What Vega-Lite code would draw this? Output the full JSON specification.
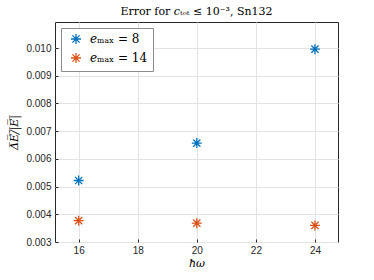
{
  "$schema": "https://vega.github.io/schema/vega-lite/v6.json",
  "autosize": "none",
  "width": 283,
  "height": 220,
  "padding": {"left": 55, "top": 22, "right": 36, "bottom": 38},
  "background": "white",
  "config": {
    "view": {"stroke": "#262626", "strokeWidth": 1},
    "axis": {
      "labelFont": "Liberation Sans",
      "labelFontSize": 10,
      "labelColor": "#262626",
      "gridColor": "#e3e3e3",
      "gridWidth": 1,
      "domain": false,
      "tickColor": "#262626",
      "tickSize": -3,
      "titleFont": "DejaVu Serif",
      "titleFontWeight": "normal",
      "titleFontStyle": "italic",
      "titleFontSize": 11,
      "titleColor": "#000000"
    }
  },
  "title": {
    "text": "Error for 𝑐ₜₒₜ ≤ 10⁻³, Sn132",
    "font": "DejaVu Serif",
    "fontSize": 11,
    "fontWeight": "normal",
    "color": "#000000",
    "anchor": "middle",
    "offset": 5
  },
  "data": {
    "values": [
      {"hw": 16, "err": 0.00522, "series": "𝑒ₘₐₓ = 8"},
      {"hw": 20, "err": 0.00657, "series": "𝑒ₘₐₓ = 8"},
      {"hw": 24, "err": 0.00996, "series": "𝑒ₘₐₓ = 8"},
      {"hw": 16, "err": 0.00377, "series": "𝑒ₘₐₓ = 14"},
      {"hw": 20, "err": 0.00368, "series": "𝑒ₘₐₓ = 14"},
      {"hw": 24, "err": 0.00360, "series": "𝑒ₘₐₓ = 14"}
    ]
  },
  "mark": {
    "type": "point",
    "shape": "M0,-1L0,1M-1,0L1,0M-0.72,-0.72L0.72,0.72M-0.72,0.72L0.72,-0.72",
    "filled": false,
    "size": 100,
    "strokeWidth": 1.3,
    "opacity": 1
  },
  "encoding": {
    "x": {
      "field": "hw",
      "type": "quantitative",
      "scale": {"domain": [15.2, 24.78], "nice": false, "zero": false},
      "axis": {"values": [16, 18, 20, 22, 24], "title": "ħω", "labelPadding": 6, "titlePadding": 2}
    },
    "y": {
      "field": "err",
      "type": "quantitative",
      "scale": {"domain": [0.003, 0.01094], "nice": false, "zero": false},
      "axis": {"values": [0.003, 0.004, 0.005, 0.006, 0.007, 0.008, 0.009, 0.01], "format": ".3f", "title": "Δ̅E̅/̅|̅E̅|̅", "labelPadding": 7, "titlePadding": 6}
    },
    "color": {
      "field": "series",
      "type": "nominal",
      "scale": {"domain": ["𝑒ₘₐₓ = 8", "𝑒ₘₐₓ = 14"], "range": ["#0072BD", "#D95319"]},
      "legend": {
        "title": null,
        "orient": "top-left",
        "offset": 6,
        "padding": 5,
        "strokeColor": "#8c8c8c",
        "fillColor": "white",
        "symbolType": "M0,-1L0,1M-1,0L1,0M-0.72,-0.72L0.72,0.72M-0.72,0.72L0.72,-0.72",
        "symbolSize": 100,
        "symbolStrokeWidth": 1.3,
        "symbolFillColor": "transparent",
        "labelFont": "DejaVu Serif",
        "labelFontSize": 12,
        "labelColor": "#000000",
        "rowPadding": 3,
        "symbolOffset": 4,
        "labelOffset": 8
      }
    }
  }
}
